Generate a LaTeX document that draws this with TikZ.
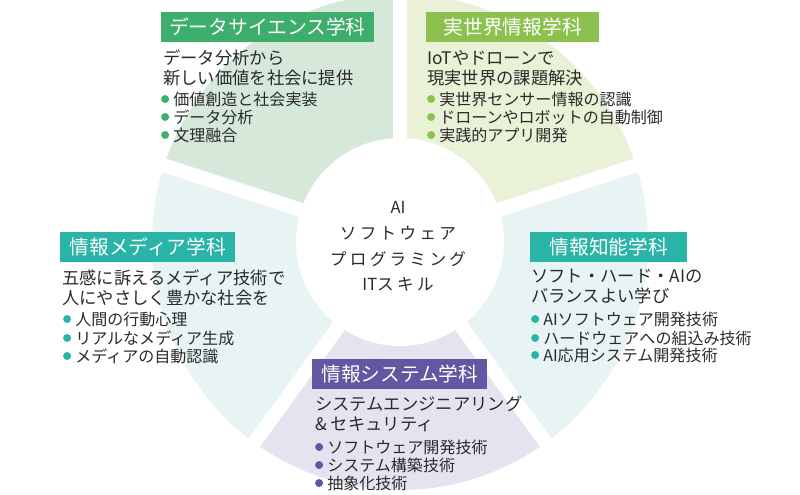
\documentclass[tikz,border=0pt]{standalone}
\usepackage{fontspec}
\newfontfamily\jp{Noto Sans CJK JP}
\newfontfamily\jpwide[LetterSpace=20]{Noto Sans CJK JP}
\usetikzlibrary{positioning}

\definecolor{ink}{HTML}{2A2A2A}
\definecolor{dsgreen}{HTML}{3DAE6B}
\definecolor{dssec}{HTML}{D5E8DA}
\definecolor{rwgreen}{HTML}{8CC150}
\definecolor{rwsec}{HTML}{E9F1D6}
\definecolor{teal}{HTML}{2AB4A8}
\definecolor{tealsec}{HTML}{E8F3F3}
\definecolor{purple}{HTML}{6456A0}
\definecolor{purplesec}{HTML}{E6E3F1}

\begin{document}
\begin{tikzpicture}[x=0.025cm, y=-0.025cm,
  title/.style={fill=#1, text=white, anchor=north west, inner xsep=0.2cm,
    minimum height=0.75cm, font=\jp\fontsize{14}{16}\selectfont},
  body/.style={anchor=west, inner sep=0, align=left, text=ink,
    font=\jp\fontsize{12.3}{14.2}\selectfont},
  item/.style={anchor=west, inner sep=0, text=ink,
    font=\jp\fontsize{11.4}{13}\selectfont,
    label={[circle, fill=#1, inner sep=0, minimum size=0.2cm,
      label distance=0.09cm]left:{}}}]

  \useasboundingbox (0,0) rectangle (800,494);
  \clip (0,0) rectangle (800,494);

  \coordinate (O) at (400,242);

  % ring
  \fill[purplesec] (O) -- ++(54:248) arc[start angle=54, end angle=126, radius=248] -- cycle;
  \fill[tealsec] (O) -- ++(126:248) arc[start angle=126, end angle=198, radius=248] -- cycle;
  \fill[dssec] (O) -- ++(198:248) arc[start angle=198, end angle=270, radius=248] -- cycle;
  \fill[rwsec] (O) -- ++(270:248) arc[start angle=270, end angle=342, radius=248] -- cycle;
  \fill[tealsec] (O) -- ++(342:248) arc[start angle=342, end angle=414, radius=248] -- cycle;
  \foreach \a in {54,126,198,270,342}
    \draw[white, line width=0.35cm] (O) -- ++(\a:270);
  \fill[white] (O) circle[radius=104];

  \node[align=center, text=ink, font=\jpwide\fontsize{11.8}{18.3}\selectfont]
    (core) at (398,246.5) {{\jp AI}\\ソフトウェア\\プログラミング\\{\jp IT}スキル};

  % data science
  \node[title=dsgreen, minimum width=5.3cm] (dsTitle) at (161,12) {データサイエンス学科};
  \node[body] (dsBody) at (163,68) {データ分析から\\新しい価値を社会に提供};
  \node[item=dsgreen] (ds1) at (173,99) {価値創造と社会実装};
  \node[item=dsgreen] (ds2) at (173,117) {データ分析};
  \node[item=dsgreen] (ds3) at (173,135) {文理融合};

  % real world
  \node[title=rwgreen, minimum width=4.325cm] (rwTitle) at (426,12) {実世界情報学科};
  \node[body] (rwBody) at (427,68) {IoTやドローンで\\現実世界の課題解決};
  \node[item=rwgreen] (rw1) at (439,99) {実世界センサー情報の認識};
  \node[item=rwgreen] (rw2) at (439,117) {ドローンやロボットの自動制御};
  \node[item=rwgreen] (rw3) at (439,135) {実践的アプリ開発};

  % media
  \node[title=teal, minimum width=4.375cm] (mdTitle) at (60,232) {情報メディア学科};
  \node[body] (mdBody) at (62,287.5) {五感に訴えるメディア技術で\\人にやさしく豊かな社会を};
  \node[item=teal] (md1) at (75,319) {人間の行動心理};
  \node[item=teal] (md2) at (75,338) {リアルなメディア生成};
  \node[item=teal] (md3) at (75,356) {メディアの自動認識};

  % intelligence
  \node[title=teal, minimum width=3.925cm] (inTitle) at (530,232) {情報知能学科};
  \node[body] (inBody) at (531,286.5) {ソフト・ハード・AIの\\バランスよい学び};
  \node[item=teal] (in1) at (543,319) {AIソフトウェア開発技術};
  \node[item=teal] (in2) at (543,338) {ハードウェアへの組込み技術};
  \node[item=teal] (in3) at (543,355) {AI応用システム開発技術};

  % systems
  \node[title=purple, minimum width=4.375cm] (syTitle) at (312,359) {情報システム学科};
  \node[body] (syBody) at (315,414) {システムエンジニアリング\\\& セキュリティ};
  \node[item=purple] (sy1) at (327,447) {ソフトウェア開発技術};
  \node[item=purple] (sy2) at (327,465) {システム構築技術};
  \node[item=purple] (sy3) at (327,483) {抽象化技術};

\end{tikzpicture}
\end{document}
